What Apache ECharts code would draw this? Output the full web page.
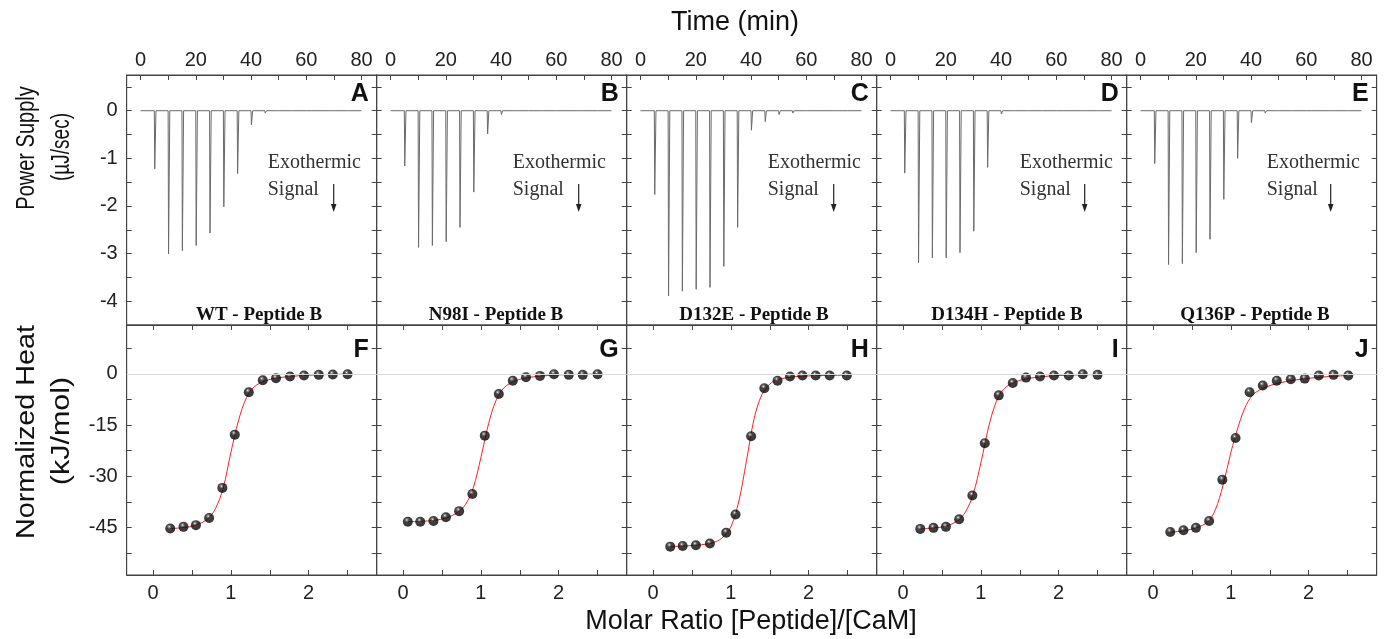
<!DOCTYPE html>
<html>
<head>
<meta charset="utf-8">
<script src="https://cdn.jsdelivr.net/npm/echarts@6.0.0/dist/echarts.min.js"></script>
<style>
html,body{margin:0;padding:0;background:#fff;}
#chart{width:1389px;height:639px;}
</style>
</head>
<body>
<div id="chart"></div>
<script>
// ---------------- DATA ----------------
const topLetters = ['A', 'B', 'C', 'D', 'E'];
const bottomLetters = ['F', 'G', 'H', 'I', 'J'];
const panelTitles = ['WT - Peptide B', 'N98I - Peptide B', 'D132E - Peptide B', 'D134H - Peptide B', 'Q136P - Peptide B'];

// injection times (min) and peak heights (µJ/sec) of raw ITC traces
const injTime = [5, 10, 15, 20, 25, 30, 35, 40, 45, 50, 55, 60, 65, 70, 75];
const peakA = [-1.22, -3.01, -2.94, -2.83, -2.57, -2.02, -1.32, -0.30, -0.05, -0.04, -0.03, -0.03, -0.03, -0.03, -0.03];
const peakB = [-1.16, -2.87, -2.83, -2.75, -2.45, -1.71, -0.49, -0.08, -0.04, -0.03, -0.03, -0.03, -0.03, -0.03, -0.03];
const peakC = [-1.76, -3.89, -3.79, -3.75, -3.71, -3.27, -2.45, -0.41, -0.23, -0.08, -0.05, -0.04, -0.03, -0.03, -0.03];
const peakD = [-1.31, -3.19, -3.09, -3.09, -2.98, -2.53, -1.19, -0.07, -0.04, -0.03, -0.03, -0.03, -0.03, -0.03, -0.03];
const peakE = [-1.11, -3.23, -3.21, -2.98, -2.70, -1.86, -1.00, -0.25, -0.05, -0.04, -0.03, -0.03, -0.03, -0.03, -0.03];
const traceStart = 0, traceEnd = 80;

// integrated heats (kJ/mol) vs molar ratio
const ratioF = [0.22, 0.39, 0.55, 0.72, 0.89, 1.05, 1.23, 1.41, 1.58, 1.76, 1.94, 2.13, 2.31, 2.50];
const heatF  = [-45.3, -44.8, -44.3, -42.2, -33.4, -17.8, -5.4, -1.9, -1.3, -0.8, -0.5, -0.3, -0.2, -0.1];
const ratioG = [0.06, 0.22, 0.39, 0.55, 0.72, 0.89, 1.05, 1.23, 1.41, 1.58, 1.76, 1.94, 2.13, 2.31, 2.50];
const heatG  = [-43.3, -43.3, -43.1, -42.0, -40.2, -35.2, -18.1, -5.9, -2.0, -1.0, -0.6, -0.1, -0.3, -0.3, -0.1];
const ratioH = [0.22, 0.38, 0.55, 0.73, 0.94, 1.06, 1.26, 1.43, 1.60, 1.76, 1.92, 2.09, 2.27, 2.49];
const heatH  = [-50.6, -50.4, -50.2, -49.7, -46.5, -41.2, -18.3, -4.2, -2.0, -0.8, -0.5, -0.5, -0.5, -0.5];
const ratioI = [0.22, 0.39, 0.55, 0.72, 0.89, 1.05, 1.23, 1.41, 1.58, 1.76, 1.94, 2.13, 2.31, 2.50];
const heatI  = [-45.4, -45.1, -44.8, -42.6, -35.6, -20.3, -6.3, -2.7, -1.1, -0.8, -0.5, -0.5, -0.1, -0.3];
const ratioJ = [0.22, 0.39, 0.55, 0.72, 0.89, 1.06, 1.24, 1.41, 1.59, 1.77, 1.95, 2.13, 2.32, 2.51];
const heatJ  = [-46.3, -45.8, -45.1, -43.1, -31.0, -18.8, -5.4, -3.4, -2.0, -1.6, -1.4, -0.5, -0.3, -0.5];

// fitted curves [ratio, heat]
const fitF = [[0.22,-45.3],[0.4,-45.0],[0.55,-44.3],[0.7,-42.5],[0.8,-39.5],[0.9,-33.5],[1.0,-23],[1.1,-13.5],[1.2,-7],[1.3,-3.8],[1.45,-2.0],[1.6,-1.2],[1.8,-0.7],[2.0,-0.4],[2.25,-0.2],[2.5,-0.1]];
const fitG = [[0.06,-43.3],[0.22,-43.2],[0.4,-42.9],[0.55,-42.2],[0.7,-40.6],[0.8,-38.3],[0.9,-33.5],[1.0,-24.5],[1.1,-14.5],[1.2,-7.5],[1.3,-4.0],[1.45,-2.0],[1.6,-1.1],[1.8,-0.6],[2.0,-0.3],[2.25,-0.15],[2.5,-0.1]];
const fitH = [[0.22,-50.6],[0.4,-50.4],[0.55,-50.2],[0.7,-49.8],[0.8,-49.2],[0.9,-47.8],[1.0,-44.8],[1.1,-37.5],[1.2,-25.5],[1.3,-13],[1.4,-6],[1.5,-3.0],[1.6,-1.7],[1.8,-0.9],[2.0,-0.6],[2.25,-0.45],[2.5,-0.4]];
const fitI = [[0.22,-45.4],[0.4,-45.1],[0.55,-44.6],[0.7,-43.0],[0.8,-40.5],[0.9,-35.3],[1.0,-26],[1.1,-15.5],[1.2,-8],[1.3,-4.3],[1.45,-2.3],[1.6,-1.4],[1.8,-0.8],[2.0,-0.5],[2.25,-0.3],[2.5,-0.2]];
const fitJ = [[0.22,-46.4],[0.4,-45.9],[0.55,-45.1],[0.7,-43.4],[0.8,-39.8],[0.9,-32.5],[1.0,-23],[1.1,-15],[1.2,-9],[1.3,-5.8],[1.45,-3.9],[1.6,-2.8],[1.8,-1.9],[2.0,-1.3],[2.25,-0.8],[2.5,-0.5]];

// ticks / tick labels
const timeLabels = [0, 20, 40, 60, 80];
const timeTicks = [0, 10, 20, 30, 40, 50, 60, 70, 80];
const powerLabels = [0, -1, -2, -3, -4];
const powerTicks = [0.5, 0, -0.5, -1, -1.5, -2, -2.5, -3, -3.5, -4];
const heatLabels = [0, -15, -30, -45];
const heatTicks = [7.5, 0, -7.5, -15, -22.5, -30, -37.5, -45, -52.5];
const ratioLabels = [0, 1, 2];
const ratioTicks = [0, 0.5, 1, 1.5, 2, 2.5];

// ---------------- BUILD ----------------
const peaks = [peakA, peakB, peakC, peakD, peakE];
const ratios = [ratioF, ratioG, ratioH, ratioI, ratioJ];
const heats = [heatF, heatG, heatH, heatI, heatJ];
const fits = [fitF, fitG, fitH, fitI, fitJ];

function buildTrace(pk) {
  const pts = [[traceStart, 0]];
  for (let i = 0; i < injTime.length; i++) {
    const t = injTime[i];
    pts.push([t, 0], [t + 0.15, pk[i]], [t + 0.6, 0]);
  }
  pts.push([traceEnd, 0]);
  return pts;
}

const SANS = "'Liberation Sans', Arial, sans-serif";
const SERIF = "'Liberation Serif', 'Times New Roman', serif";
const AXC = '#444444';
const panelLeft0 = 126.7, panelW = 250;
const topY = 75, midY = 325, panelH = 250;

const grid = [], xAxis = [], yAxis = [], series = [], graphic = [];

function axis(gridIndex, position, min, max, ticks, labels, showLabel, margin) {
  return {
    type: 'value', gridIndex, position, min, max,
    axisLine: {show: true, onZero: false, lineStyle: {color: AXC, width: 1}},
    splitLine: {show: false},
    axisTick: {show: true, inside: true, length: 5, customValues: ticks, lineStyle: {color: AXC, width: 1}},
    axisLabel: {show: showLabel, customValues: labels, fontSize: 20, color: '#222', fontFamily: SANS, margin: margin},
  };
}

const ball = {
  type: 'radial', x: 0.4, y: 0.32, r: 0.72,
  colorStops: [
    {offset: 0, color: '#ffffff'},
    {offset: 0.12, color: '#7a7a7a'},
    {offset: 0.32, color: '#141414'},
    {offset: 1, color: '#000000'}
  ]
};

for (let i = 0; i < 5; i++) {
  const L = panelLeft0 + panelW * i;
  grid.push({left: L, top: topY, width: panelW, height: panelH, show: true, borderColor: AXC, borderWidth: 1, backgroundColor: 'transparent'});
  grid.push({left: L, top: midY, width: panelW, height: panelH, show: true, borderColor: AXC, borderWidth: 1, backgroundColor: 'transparent'});
  const gT = 2 * i, gB = 2 * i + 1;

  const xTop = xAxis.length;
  xAxis.push(axis(gT, 'top', -5, 85.5, timeTicks, timeLabels, true, 5));
  const xBot = xAxis.length;
  xAxis.push(axis(gB, 'bottom', -0.34, 2.875, ratioTicks, ratioLabels, true, 8));
  xAxis.push(axis(gB, 'top', -0.34, 2.875, ratioTicks, ratioLabels, false, 8));

  const yTop = yAxis.length;
  yAxis.push(axis(gT, 'left', -4.5, 0.75, powerTicks, powerLabels, i === 0, 9));
  yAxis.push(axis(gT, 'right', -4.5, 0.75, powerTicks, powerLabels, false, 9));
  const yBot = yAxis.length;
  yAxis.push(axis(gB, 'left', -58.9, 14.3, heatTicks, heatLabels, i === 0, 9));
  yAxis.push(axis(gB, 'right', -58.9, 14.3, heatTicks, heatLabels, false, 9));

  series.push({
    type: 'line', xAxisIndex: xTop, yAxisIndex: yTop,
    data: buildTrace(peaks[i]), showSymbol: false, symbol: 'none',
    lineStyle: {color: '#6a6a6a', width: 1}, animation: false, silent: true, z: 2
  });
  series.push({
    type: 'line', xAxisIndex: xBot, yAxisIndex: yBot,
    data: fits[i], showSymbol: false, symbol: 'none', smooth: 0.35,
    lineStyle: {color: '#ff2020', width: 1}, animation: false, silent: true, z: 3,
    markLine: {
      silent: true, symbol: 'none', animation: false,
      label: {show: false},
      lineStyle: {color: '#d8d8d8', width: 1, type: 'solid'},
      data: [{yAxis: 0}]
    }
  });
  series.push({
    type: 'scatter', xAxisIndex: xBot, yAxisIndex: yBot,
    data: ratios[i].map((r, k) => [r, heats[i][k]]),
    symbol: 'circle', symbolSize: 10,
    itemStyle: {color: ball, borderWidth: 0},
    animation: false, silent: true, z: 4
  });

  // panel letters
  graphic.push({type: 'text', x: L + panelW - 8, y: 94, z: 10,
    style: {text: topLetters[i], font: 'bold 25px ' + SANS, fill: '#111', align: 'right', verticalAlign: 'middle', textAlign: 'right', textVerticalAlign: 'middle'}});
  graphic.push({type: 'text', x: L + panelW - 8, y: 350, z: 10,
    style: {text: bottomLetters[i], font: 'bold 25px ' + SANS, fill: '#111', align: 'right', verticalAlign: 'middle', textAlign: 'right', textVerticalAlign: 'middle'}});
}

// layout-only offsets of annotation texts inside each top panel
const titleCenters = [259, 496, 754, 1007, 1255];
const exoOffset = [141, 136, 141, 143, 140];
const arrowOffset = [207, 202, 207, 208, 204];
for (let i = 0; i < 5; i++) {
  const L = panelLeft0 + panelW * i;
  graphic.push({type: 'text', x: titleCenters[i], y: 315, z: 10,
    style: {text: panelTitles[i], font: 'bold 19px ' + SERIF, fill: '#111', align: 'center', verticalAlign: 'middle', textAlign: 'center', textVerticalAlign: 'middle'}});
  graphic.push({type: 'text', x: L + exoOffset[i], y: 163, z: 10,
    style: {text: 'Exothermic', font: '20px ' + SERIF, fill: '#333', align: 'left', verticalAlign: 'middle', textAlign: 'left', textVerticalAlign: 'middle'}});
  graphic.push({type: 'text', x: L + exoOffset[i], y: 190, z: 10,
    style: {text: 'Signal', font: '20px ' + SERIF, fill: '#333', align: 'left', verticalAlign: 'middle', textAlign: 'left', textVerticalAlign: 'middle'}});
  const ax = L + arrowOffset[i];
  graphic.push({type: 'line', z: 10, shape: {x1: ax, y1: 184, x2: ax, y2: 206}, style: {stroke: '#222', lineWidth: 1.2}});
  graphic.push({type: 'polygon', z: 10, shape: {points: [[ax - 2.8, 204], [ax + 2.8, 204], [ax, 212]]}, style: {fill: '#222'}});
}

// axis titles
graphic.push({type: 'text', x: 735, y: 23, z: 10,
  style: {text: 'Time (min)', font: '27px ' + SANS, fill: '#111', align: 'center', verticalAlign: 'middle', textAlign: 'center', textVerticalAlign: 'middle'}});
graphic.push({type: 'text', x: 751, y: 622, z: 10,
  style: {text: 'Molar Ratio [Peptide]/[CaM]', font: '27px ' + SANS, fill: '#111', align: 'center', verticalAlign: 'middle', textAlign: 'center', textVerticalAlign: 'middle'}});
const yNames = [
  {text: 'Power Supply', x: 27, y: 148, s: 0.8},
  {text: '(µJ/sec)', x: 62, y: 147, s: 0.76},
  {text: 'Normalized Heat', x: 27, y: 432, s: 1.15},
  {text: '(kJ/mol)', x: 62, y: 431, s: 1.22}
];
yNames.forEach(n => {
  graphic.push({type: 'text', x: n.x, y: n.y, rotation: Math.PI / 2, scaleX: n.s, scaleY: 1, z: 10,
    style: {text: n.text, font: '25px ' + SANS, fill: '#111', align: 'center', verticalAlign: 'middle', textAlign: 'center', textVerticalAlign: 'middle'}});
});

const chart = echarts.init(document.getElementById('chart'), null, {renderer: 'canvas'});
chart.setOption({
  backgroundColor: '#ffffff',
  animation: false,
  grid, xAxis, yAxis, series, graphic
});
</script>
</body>
</html>
